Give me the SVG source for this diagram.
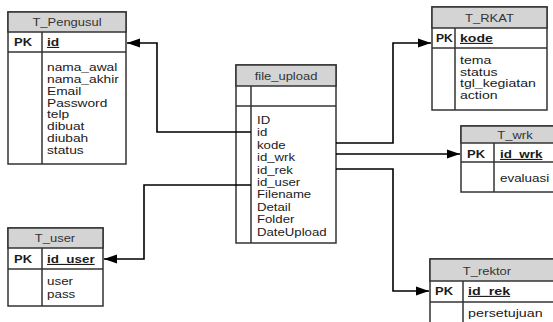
<svg xmlns="http://www.w3.org/2000/svg" width="553" height="322" viewBox="0 0 553 322">
<style>
text{font-family:"Liberation Sans",Arial,sans-serif;font-size:11px;fill:#1a1a1a}
.t{text-anchor:middle;fill:#333}
.pk{font-weight:bold}
.u{font-weight:bold;text-decoration:underline}
.box{fill:#fff;stroke:#333;stroke-width:1.5}
.hd{fill:#d4d4d4;stroke:#333;stroke-width:1.5}
.ln{stroke:#333;stroke-width:1.5;fill:none}
.c{stroke:#000;stroke-width:1.6;fill:none}
</style>
<defs>
<marker id="arr" markerUnits="userSpaceOnUse" markerWidth="14" markerHeight="10" refX="13" refY="5" orient="auto">
<path d="M0,0.5 L13,5 L0,9.5 Z" fill="#000"/>
</marker>
</defs>
<rect width="553" height="322" fill="#fff"/>

<g id="T_Pengusul">
<rect class="box" x="8" y="12" width="118" height="152"/>
<rect class="hd" x="8" y="12" width="118" height="20"/>
<line class="ln" x1="8" y1="52" x2="126" y2="52"/>
<line class="ln" x1="42" y1="32" x2="42" y2="164"/>
<g transform="translate(67,0) scale(1.18,1)"><text class="t" x="0" y="26">T_Pengusul</text></g>
<g transform="translate(14,0) scale(1.18,1)"><text class="pk" x="0" y="46">PK</text></g>
<g transform="translate(47,0) scale(1.25,1)">
<text class="u" x="0" y="46">id</text>
<text x="0" y="71">nama_awal</text>
<text x="0" y="82.9">nama_akhir</text>
<text x="0" y="94.7">Email</text>
<text x="0" y="106.6">Password</text>
<text x="0" y="118.4">telp</text>
<text x="0" y="130.3">dibuat</text>
<text x="0" y="142.1">diubah</text>
<text x="0" y="154">status</text>
</g>
</g>

<g id="file_upload">
<rect class="box" x="236" y="65" width="100" height="178"/>
<rect class="hd" x="236" y="65" width="100" height="21"/>
<line class="ln" x1="236" y1="106" x2="336" y2="106"/>
<line class="ln" x1="251" y1="86" x2="251" y2="243"/>
<g transform="translate(286,0) scale(1.18,1)"><text class="t" x="0" y="80">file_upload</text></g>
<g transform="translate(257,0) scale(1.2,1)">
<text x="0" y="124">ID</text>
<text x="0" y="136.4">id</text>
<text x="0" y="148.8">kode</text>
<text x="0" y="161.2">id_wrk</text>
<text x="0" y="173.6">id_rek</text>
<text x="0" y="186">id_user</text>
<text x="0" y="198.4">Filename</text>
<text x="0" y="210.8">Detail</text>
<text x="0" y="223.2">Folder</text>
<text x="0" y="235.6">DateUpload</text>
</g>
</g>

<g id="T_user">
<rect class="box" x="8" y="228" width="95" height="78"/>
<rect class="hd" x="8" y="228" width="95" height="20"/>
<line class="ln" x1="8" y1="269" x2="103" y2="269"/>
<line class="ln" x1="42" y1="248" x2="42" y2="306"/>
<g transform="translate(55,0) scale(1.18,1)"><text class="t" x="0" y="242">T_user</text></g>
<g transform="translate(14,0) scale(1.18,1)"><text class="pk" x="0" y="263">PK</text></g>
<g transform="translate(47,0) scale(1.22,1)">
<text class="u" x="0" y="263">id_user</text>
<text x="0" y="285">user</text>
<text x="0" y="298">pass</text>
</g>
</g>

<g id="T_RKAT">
<rect class="box" x="432" y="7" width="115" height="103"/>
<rect class="hd" x="432" y="7" width="115" height="21"/>
<line class="ln" x1="432" y1="48" x2="547" y2="48"/>
<line class="ln" x1="455" y1="28" x2="455" y2="110"/>
<g transform="translate(489.5,0) scale(1.18,1)"><text class="t" x="0" y="22">T_RKAT</text></g>
<g transform="translate(436,0) scale(1.1,1)"><text class="pk" x="0" y="42">PK</text></g>
<g transform="translate(460,0) scale(1.28,1)">
<text class="u" x="0" y="42">kode</text>
<text x="0" y="64">tema</text>
<text x="0" y="75.7">status</text>
<text x="0" y="87.4">tgl_kegiatan</text>
<text x="0" y="99">action</text>
</g>
</g>

<g id="T_wrk">
<rect class="box" x="461" y="126" width="100" height="66"/>
<rect class="hd" x="461" y="126" width="100" height="17"/>
<line class="ln" x1="461" y1="162" x2="561" y2="162"/>
<line class="ln" x1="494" y1="143" x2="494" y2="192"/>
<g transform="translate(515,0) scale(1.18,1)"><text class="t" x="0" y="139">T_wrk</text></g>
<g transform="translate(467,0) scale(1.18,1)"><text class="pk" x="0" y="158">PK</text></g>
<g transform="translate(500,0) scale(1.22,1)">
<text class="u" x="0" y="158">id_wrk</text>
<text x="0" y="182">evaluasi</text>
</g>
</g>

<g id="T_rektor">
<rect class="box" x="430" y="259" width="130" height="70"/>
<rect class="hd" x="430" y="259" width="130" height="22"/>
<line class="ln" x1="430" y1="302" x2="560" y2="302"/>
<line class="ln" x1="463" y1="281" x2="463" y2="329"/>
<g transform="translate(487,0) scale(1.18,1)"><text class="t" x="0" y="275">T_rektor</text></g>
<g transform="translate(435,0) scale(1.18,1)"><text class="pk" x="0" y="295">PK</text></g>
<g transform="translate(468,0) scale(1.3,1)">
<text class="u" x="0" y="295">id_rek</text>
<text x="0" y="317">persetujuan</text>
</g>
</g>

<g id="connectors">
<path class="c" d="M251,132 H157 V43 H127" marker-end="url(#arr)"/>
<path class="c" d="M251,185 H144 V259 H104" marker-end="url(#arr)"/>
<path class="c" d="M336,143 H393 V43 H431" marker-end="url(#arr)"/>
<path class="c" d="M336,154 H460" marker-end="url(#arr)"/>
<path class="c" d="M336,169 H393 V291 H429" marker-end="url(#arr)"/>
</g>
</svg>
